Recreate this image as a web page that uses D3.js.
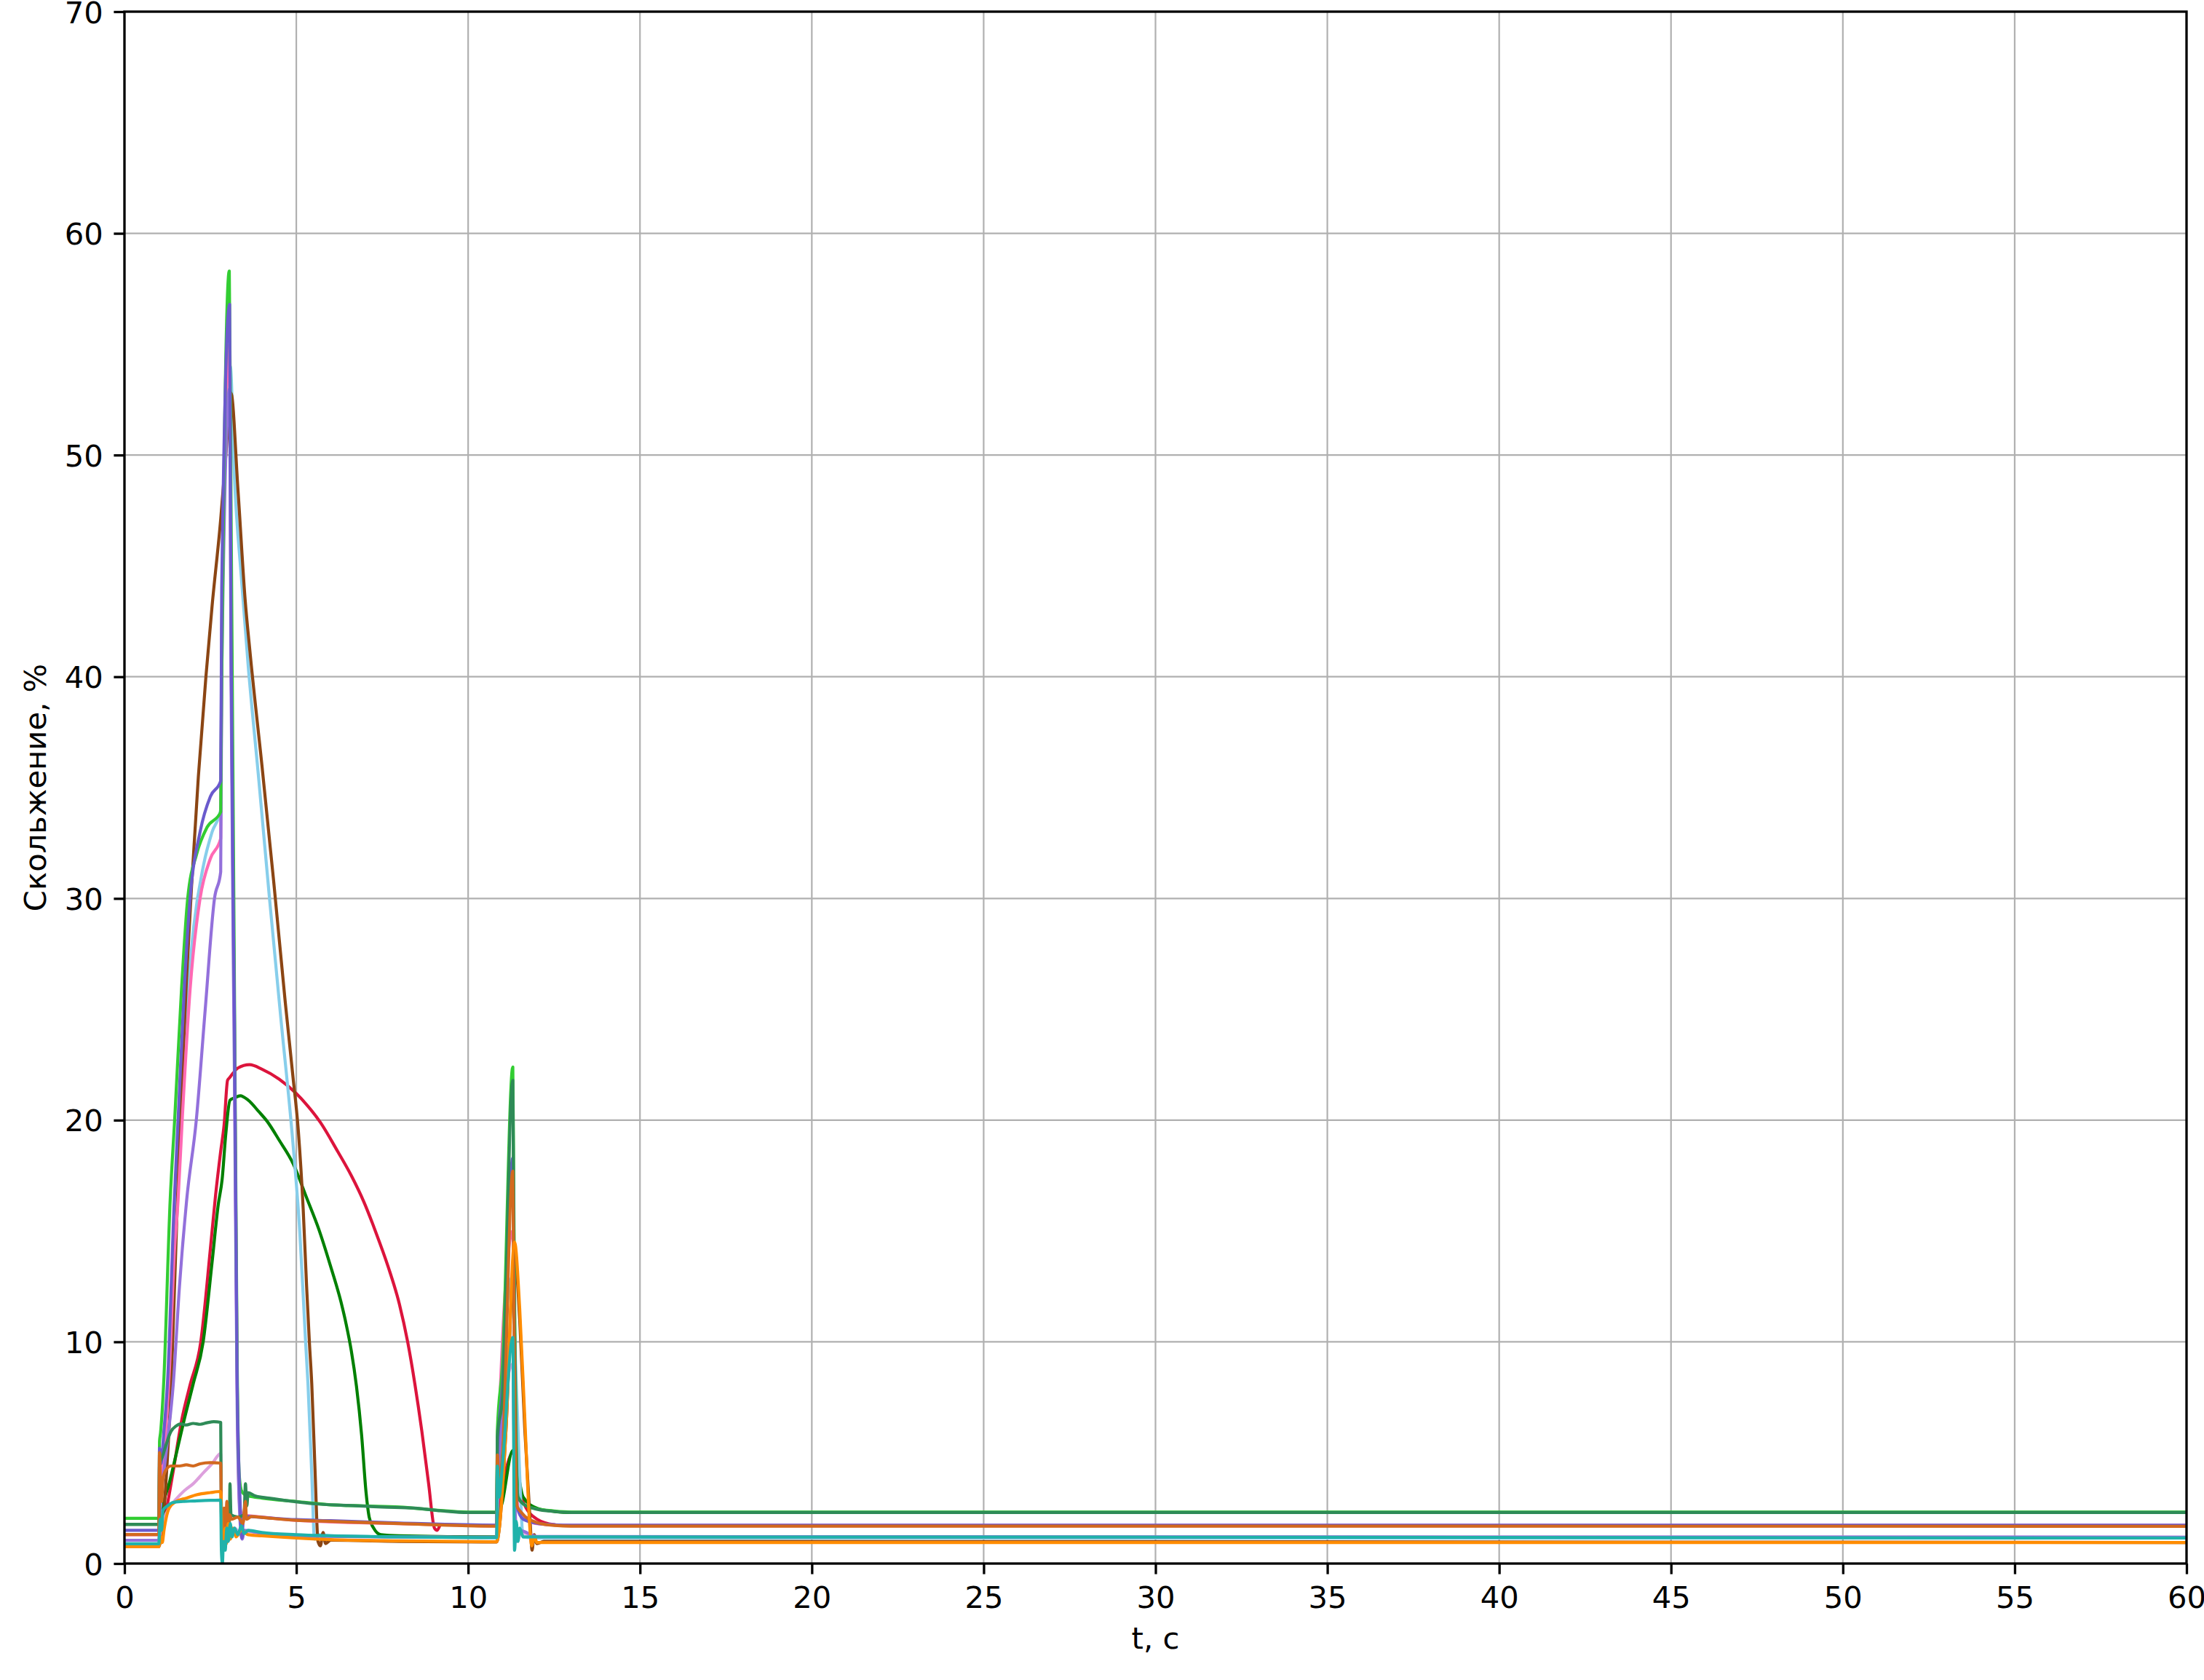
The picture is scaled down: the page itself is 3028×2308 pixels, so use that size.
<!DOCTYPE html>
<html>
<head>
<meta charset="utf-8">
<script src="https://cdn.jsdelivr.net/npm/d3@7/dist/d3.min.js"></script>
<style>
html,body{margin:0;padding:0;background:#fff;overflow:hidden;}
svg{display:block;}
</style>
</head>
<body>
<svg id="chart" width="3028" height="2308"></svg>
<script>
// ---------- data ----------
const xTicks = [0,5,10,15,20,25,30,35,40,45,50,55,60];
const yTicks = [0,10,20,30,40,50,60,70];
const xLabel = "t, с";
const yLabel = "Скольжение, %";

const seriesNames = ["crimson","green","skyblue","saddlebrown","plum","hotpink","mediumpurple","limegreen","slateblue","seagreen","chocolate","darkorange","lightseagreen"];
const seriesColors = ["#DC143C","#008000","#87CEEB","#8B4513","#DDA0DD","#FF69B4","#9370DB","#32CD32","#6A5ACD","#2E8B57","#D2691E","#FF8C00","#20B2AA"];

const crimson = [[0,1.31],[1.0,1.31],[1.05,1.5],[1.2,2.3],[1.4,4.0],[1.67,6.5],[1.9,8.0],[2.22,10.0],[2.5,14.2],[2.65,16.6],[2.8,18.6],[2.9,19.8],[3.0,21.8],[3.05,21.9],[3.15,22.1],[3.3,22.35],[3.64,22.5],[4.0,22.3],[4.5,21.85],[5.0,21.2],[5.3,20.7],[5.7,19.9],[6.2,18.6],[6.6,17.5],[6.97,16.3],[7.3,15.0],[7.67,13.4],[8.0,11.7],[8.24,10.0],[8.45,8.1],[8.65,6.0],[8.85,3.6],[9.02,1.6],[9.1,1.5],[9.2,1.75],[10,1.72],[10.83,1.7],[10.86,2.0],[11.3,5.0],[11.6,2.8],[12,2.0],[12.5,1.75],[13,1.7],[60,1.7]];

const green = [[0,1.77],[1.0,1.77],[1.05,1.6],[1.14,2.7],[1.3,3.6],[1.5,4.9],[1.74,6.5],[2.0,8.1],[2.29,10.0],[2.55,13.6],[2.73,16.2],[2.84,17.3],[2.95,19.4],[3.07,20.9],[3.2,21.0],[3.37,21.1],[3.6,20.9],[3.9,20.4],[4.15,19.95],[4.5,19.1],[4.92,18.0],[5.3,16.5],[5.65,15.1],[5.98,13.5],[6.3,11.8],[6.45,10.8],[6.6,9.6],[6.75,8.0],[6.9,5.8],[7.03,3.2],[7.12,2.1],[7.25,1.6],[7.46,1.3],[8,1.25],[10.83,1.2],[10.86,1.9],[11.0,2.8],[11.3,5.1],[11.6,3.0],[12,2.5],[12.5,2.35],[13,2.3],[60,2.3]];

const skyblue = [[0,0.89],[1.0,0.89],[1.04,2.5],[1.15,5],[1.3,9],[1.5,16],[1.75,23.5],[2.0,28.5],[2.3,31.5],[2.55,33],[2.8,34],[2.83,42],[3.08,54],[3.2,49],[3.41,44.3],[3.6,40.5],[3.9,35.5],[4.22,30],[4.55,24.6],[4.9,19],[5.1,15],[5.27,10],[5.34,8.1],[5.45,4],[5.53,1.1],[5.6,1.3],[6,1.25],[8,1.2],[10.83,1.17],[10.86,3],[11.3,13],[11.38,9],[11.5,4],[11.6,1.2],[12,1.15],[60,1.15]];

const saddlebrown = [[0,0.76],[1.0,0.76],[1.05,1.0],[1.1,1.3],[1.2,3.5],[1.36,8.1],[1.5,14.5],[1.65,21],[1.8,26.2],[1.95,30.5],[2.15,35.5],[2.37,40],[2.55,43.2],[2.8,47.1],[2.95,50],[3.1,52.8],[3.3,48.5],[3.51,43.5],[3.66,41],[4.0,36],[4.34,30.8],[4.68,25.3],[4.9,22],[5.06,19.5],[5.2,16],[5.3,12.5],[5.38,10],[5.45,8.1],[5.55,4],[5.63,1.0],[5.7,0.8],[5.78,1.4],[5.85,0.9],[6,1.05],[8,1.0],[10.83,0.97],[10.9,1.5],[11.1,6],[11.35,14],[11.5,11],[11.65,6],[11.8,2],[11.86,0.6],[11.92,1.3],[12,0.9],[12.2,1.0],[60,0.95]];

const plum = [[0,1.05],[1.0,1.05],[1.05,1.5],[1.15,2.0],[1.3,2.5],[1.5,2.9],[1.75,3.3],[2.0,3.6],[2.3,4.1],[2.55,4.5],[2.8,4.96],[2.83,0.6],[2.9,1.5],[3.0,1.0],[3.2,1.6],[3.4,1.3],[3.6,1.45],[4,1.35],[5,1.25],[8,1.2],[10.83,1.17],[10.86,3.5],[11.3,9],[11.35,4],[11.42,1],[11.55,1.4],[12,1.2],[60,1.19]];

const hotpink = [[0,1.31],[1.0,1.31],[1.04,3],[1.1,4],[1.2,6],[1.3,8.5],[1.45,14],[1.56,16.4],[1.68,20],[1.91,25.9],[2.2,30],[2.5,31.8],[2.8,32.7],[2.83,42],[3.06,55],[3.1,42],[3.2,24],[3.28,8],[3.36,2.5],[3.45,2.2],[4,2.1],[5,1.95],[8,1.8],[10.83,1.72],[10.86,4.5],[11.3,15],[11.36,8],[11.45,2.5],[12,1.8],[13,1.72],[60,1.72]];

const mediumpurple = [[0,1.05],[1.0,1.05],[1.04,2.5],[1.1,3.5],[1.25,5.5],[1.42,8.1],[1.6,12.5],[1.81,16.4],[2.09,20],[2.35,25],[2.62,30],[2.8,31.2],[2.83,40],[3.06,53],[3.1,40],[3.2,22],[3.28,7],[3.36,2],[3.42,1.1],[3.5,1.5],[4,1.35],[5,1.25],[8,1.2],[10.83,1.19],[10.86,3.5],[11.3,10.2],[11.34,5],[11.4,1.0],[11.5,1.5],[12,1.22],[60,1.19]];

const limegreen = [[0,2.04],[1.0,2.04],[1.02,5.5],[1.05,5.9],[1.14,8.1],[1.33,16.4],[1.46,20],[1.66,25.9],[1.84,30],[2.1,32],[2.4,33.2],[2.8,33.9],[2.82,38],[3.05,58.3],[3.1,48],[3.2,26],[3.28,9],[3.34,4],[3.4,3.3],[3.5,3.1],[3.6,3.05],[4.0,2.95],[5,2.8],[6,2.65],[7,2.6],[8,2.55],[9,2.42],[10,2.32],[10.83,2.32],[10.85,6],[11.0,9],[11.3,22.4],[11.33,16],[11.45,3.0],[11.7,2.6],[12,2.47],[12.5,2.37],[13,2.32],[60,2.32]];

const slateblue = [[0,1.5],[1.0,1.5],[1.02,5.2],[1.06,4.5],[1.15,6],[1.25,8.1],[1.45,16.4],[1.56,20],[1.74,25.9],[1.91,30],[2.2,33],[2.5,34.6],[2.8,35.3],[2.83,44],[3.06,56.8],[3.1,42],[3.2,24.6],[3.28,8.1],[3.36,3],[3.42,1.15],[3.46,2.0],[3.6,2.12],[4,2.08],[5,1.98],[6,1.93],[8,1.83],[10.83,1.73],[10.85,5.0],[11.0,8],[11.3,18.3],[11.34,12],[11.42,2.6],[11.6,2.0],[12,1.82],[12.5,1.75],[13,1.73],[60,1.73]];

const seagreen = [[0,1.77],[1.0,1.77],[1.02,4.5],[1.1,4.8],[1.22,5.4],[1.35,5.95],[1.5,6.2],[1.65,6.3],[1.8,6.25],[2.0,6.32],[2.2,6.28],[2.4,6.35],[2.6,6.4],[2.8,6.37],[2.82,1.7],[2.86,0.6],[2.9,1.8],[2.95,1.1],[3.0,2.0],[3.05,1.8],[3.07,3.6],[3.1,2.2],[3.3,2.1],[3.48,2.2],[3.52,3.6],[3.56,2.6],[3.6,3.2],[3.8,3.05],[4.2,2.95],[4.92,2.8],[5.5,2.7],[6.5,2.62],[7.5,2.55],[8.45,2.5],[9.2,2.38],[10,2.3],[10.83,2.3],[10.85,5.7],[11.0,7.5],[11.3,21.8],[11.34,12],[11.45,3.0],[11.6,2.7],[12,2.45],[12.5,2.35],[13,2.3],[60,2.3]];

const chocolate = [[0,1.31],[1.0,1.31],[1.02,5.0],[1.05,3.5],[1.08,2.8],[1.12,3.8],[1.2,4.2],[1.35,4.4],[1.6,4.4],[1.8,4.45],[2.0,4.4],[2.2,4.5],[2.5,4.55],[2.8,4.53],[2.82,2.5],[2.85,0.9],[2.9,2.5],[2.94,1.3],[2.98,2.8],[3.02,1.5],[3.06,2.2],[3.12,2.0],[3.3,2.1],[3.45,1.8],[3.52,2.8],[3.55,2.0],[3.7,2.12],[4,2.08],[5,1.95],[6,1.9],[8,1.8],[10.83,1.69],[10.85,4.9],[10.9,3.6],[11.0,5],[11.3,17.7],[11.34,10],[11.42,2.6],[11.55,2.3],[12,1.85],[12.5,1.72],[13,1.69],[60,1.68]];

const darkorange = [[0,0.76],[1.0,0.76],[1.05,1.2],[1.1,0.95],[1.15,1.5],[1.3,2.5],[1.5,2.8],[1.8,2.95],[2.1,3.1],[2.5,3.2],[2.8,3.25],[2.83,1.5],[2.88,0.7],[2.93,1.6],[2.97,0.9],[3.02,1.8],[3.08,1.1],[3.15,1.6],[3.25,1.2],[3.4,1.5],[3.6,1.3],[4,1.25],[5,1.15],[6,1.08],[8,1.02],[10.83,0.98],[10.9,1.5],[11.1,6],[11.35,14.5],[11.5,11.5],[11.65,6.5],[11.8,1.5],[11.85,0.8],[11.92,1.2],[12,0.95],[12.5,0.95],[60,0.95]];

const lightseagreen = [[0,0.89],[1.0,0.89],[1.04,2.0],[1.08,1.5],[1.12,2.4],[1.25,2.6],[1.4,2.75],[1.7,2.8],[2.0,2.82],[2.5,2.85],[2.8,2.86],[2.82,0.6],[2.85,0.0],[2.88,1.0],[2.93,0.6],[2.98,1.6],[3.02,1.0],[3.08,1.8],[3.13,1.2],[3.2,1.6],[3.3,1.3],[3.4,1.7],[3.48,1.35],[3.6,1.5],[4,1.4],[5,1.3],[6,1.25],[8,1.2],[10.83,1.17],[10.85,4.4],[10.9,3.0],[11.0,4.5],[11.3,10.2],[11.35,0.6],[11.4,1.9],[11.45,1.0],[11.5,1.6],[11.6,1.2],[12,1.2],[60,1.15]];

const seriesData = [crimson, green, skyblue, saddlebrown, plum, hotpink, mediumpurple, limegreen, slateblue, seagreen, chocolate, darkorange, lightseagreen];

// ---------- drawing ----------
(function draw() {
  const pL = 171, pR = 3004, pT = 16, pB = 2148;
  const fs = 41.7;
  const tickLen = 14.6;
  const font = "'DejaVu Sans', sans-serif";

  const svg = d3.select("#chart");
  const x = d3.scaleLinear().domain([0, 60]).range([pL, pR]);
  const y = d3.scaleLinear().domain([0, 70]).range([pB, pT]);

  const grid = svg.append("g");
  grid.selectAll("line.gx").data(xTicks).join("line").attr("class", "gx")
    .attr("x1", d => x(d)).attr("x2", d => x(d))
    .attr("y1", pT).attr("y2", pB)
    .attr("stroke", "#b0b0b0").attr("stroke-width", 2.2);
  grid.selectAll("line.gy").data(yTicks).join("line").attr("class", "gy")
    .attr("y1", d => y(d)).attr("y2", d => y(d))
    .attr("x1", pL).attr("x2", pR)
    .attr("stroke", "#b0b0b0").attr("stroke-width", 2.2);

  svg.append("defs").append("clipPath").attr("id", "clip")
    .append("rect").attr("x", pL).attr("y", pT).attr("width", pR - pL).attr("height", pB - pT);

  const line = d3.line().x(d => x(d[0])).y(d => y(d[1])).curve(d3.curveMonotoneX);
  const lines = svg.append("g").attr("clip-path", "url(#clip)");
  seriesData.forEach((s, i) => {
    lines.append("path").datum(s)
      .attr("d", line)
      .attr("fill", "none")
      .attr("stroke", seriesColors[i])
      .attr("stroke-width", 4.2)
      .attr("stroke-linejoin", "round")
      .attr("stroke-linecap", "butt");
  });

  const xAxis = d3.axisBottom(x).tickValues(xTicks).tickFormat(d3.format("d")).tickSize(tickLen).tickPadding(14.6);
  const yAxis = d3.axisLeft(y).tickValues(yTicks).tickFormat(d3.format("d")).tickSize(tickLen).tickPadding(14.6);

  const gx = svg.append("g").attr("transform", `translate(0,${pB})`).call(xAxis);
  const gy = svg.append("g").attr("transform", `translate(${pL},0)`).call(yAxis);
  [gx, gy].forEach(g => {
    g.select(".domain").remove();
    g.selectAll(".tick line").attr("stroke", "#000").attr("stroke-width", 3.3);
    g.selectAll(".tick text").attr("fill", "#000")
      .style("font-family", font).style("font-size", fs + "px");
  });
  gx.selectAll(".tick text").attr("dy", "0.76em");
  gy.selectAll(".tick text").attr("dy", "0.36em");

  svg.append("rect").attr("x", pL).attr("y", pT).attr("width", pR - pL).attr("height", pB - pT)
    .attr("fill", "none").attr("stroke", "#000").attr("stroke-width", 3.3);

  svg.append("text").attr("x", (pL + pR) / 2).attr("y", 2265)
    .attr("text-anchor", "middle").style("font-family", font).style("font-size", fs + "px")
    .text(xLabel);
  svg.append("text").attr("transform", `translate(63,${(pT + pB) / 2}) rotate(-90)`)
    .attr("text-anchor", "middle").style("font-family", font).style("font-size", fs + "px")
    .text(yLabel);
})();
</script>
</body>
</html>
